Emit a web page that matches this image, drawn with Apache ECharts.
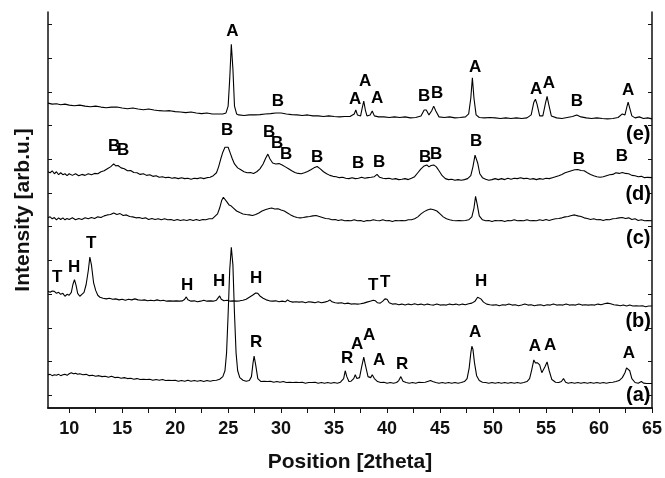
<!DOCTYPE html>
<html>
<head>
<meta charset="utf-8">
<script src="https://cdn.jsdelivr.net/npm/echarts@6/dist/echarts.min.js"></script>
<style>
  html, body { margin: 0; padding: 0; background: #fff; }
  #chart { width: 665px; height: 478px; }
</style>
</head>
<body>
<div id="chart"></div>
<script>
// XRD patterns, 2theta vs intensity (arb. units, traces already stacked)
const traceE = [[8,933],[8.4,930],[8.8,931],[9.2,928],[9.6,930],[10,927],[10.5,925],[11,927],[11.5,924],[12,922],[12.5,924],[13,921],[13.5,919],[14,921],[14.5,921],[15,918],[15.5,916],[16,918],[16.5,915],[17,913],[17.5,915],[18,912],[18.5,910],[19,909],[19.5,910],[20,907],[20.5,906],[21,904],[21.5,906],[22,903],[22.5,901],[23,903],[23.5,900],[24,900],[24.5,900],[24.8,903],[25,924],[25.15,1008],[25.3,1113],[25.45,1038],[25.6,924],[25.8,900],[26,897],[26.5,895],[27,897],[27.5,897],[28,898],[28.5,900],[29,901],[29.5,903],[30,903],[30.5,900],[31,898],[31.5,897],[32,895],[32.5,897],[33,894],[33.5,894],[34,892],[34.5,894],[35,892],[35.5,891],[36,892],[36.5,892],[36.9,900],[37.05,912],[37.2,897],[37.5,894],[37.65,918],[37.8,939],[37.95,912],[38.1,894],[38.4,897],[38.6,909],[38.8,894],[39.2,891],[39.7,891],[40.2,889],[40.7,891],[41.2,889],[41.7,891],[42.2,888],[42.7,889],[43.2,894],[43.5,912],[43.7,912],[43.95,897],[44.2,909],[44.4,924],[44.6,909],[44.9,891],[45.4,889],[45.9,891],[46.4,888],[46.9,889],[47.4,891],[47.7,900],[47.9,948],[48.05,1011],[48.2,948],[48.4,897],[48.7,889],[49.2,888],[49.7,889],[50.2,888],[50.7,886],[51.2,888],[51.7,886],[52.2,888],[52.7,886],[53.2,888],[53.6,897],[53.85,936],[54,945],[54.15,930],[54.4,894],[54.7,894],[54.95,933],[55.1,954],[55.25,930],[55.5,894],[56,888],[56.5,886],[57,889],[57.5,892],[57.9,897],[58.3,891],[58.8,888],[59.3,886],[59.8,888],[60.3,886],[60.8,885],[61.3,886],[61.8,889],[62.2,900],[62.45,897],[62.65,924],[62.75,936],[62.9,918],[63.1,894],[63.4,888],[63.8,891],[64.2,886],[64.6,888],[65,885]];

const traceD = [[8,723],[8.2,720],[8.4,726],[8.6,717],[8.8,723],[9,714],[9.2,720],[9.4,714],[9.6,717],[9.8,711],[10,717],[10.3,712],[10.6,717],[10.9,711],[11.2,715],[11.5,712],[11.8,717],[12.1,714],[12.4,718],[12.7,717],[13,723],[13.3,726],[13.6,732],[13.9,738],[14.2,747],[14.4,741],[14.6,742],[14.9,735],[15.2,732],[15.5,726],[15.8,727],[16.1,721],[16.4,720],[16.7,715],[17,717],[17.3,712],[17.6,714],[17.9,709],[18.2,711],[18.5,706],[18.8,708],[19.1,705],[19.4,706],[19.7,703],[20,705],[20.3,702],[20.6,705],[20.9,702],[21.2,703],[21.5,700],[21.8,703],[22.1,702],[22.4,705],[22.7,702],[23,705],[23.3,706],[23.6,711],[23.9,720],[24.1,738],[24.3,762],[24.5,783],[24.7,798],[24.85,804],[25,798],[25.2,780],[25.4,762],[25.6,747],[25.9,735],[26.2,729],[26.5,723],[26.8,720],[27.1,721],[27.4,718],[27.7,723],[28,732],[28.3,747],[28.55,765],[28.75,777],[28.95,762],[29.2,750],[29.5,747],[29.8,748],[30.1,744],[30.4,738],[30.7,732],[31,726],[31.3,721],[31.6,718],[31.9,717],[32.2,720],[32.5,724],[32.8,729],[33.1,735],[33.4,739],[33.7,732],[34,723],[34.3,717],[34.6,712],[34.9,709],[35.2,708],[35.5,705],[35.8,706],[36.1,703],[36.4,702],[36.7,705],[37,702],[37.3,703],[37.6,706],[37.9,703],[38.2,705],[38.5,706],[38.8,708],[39.05,715],[39.3,706],[39.6,703],[39.9,702],[40.2,703],[40.5,700],[40.8,702],[41.1,699],[41.4,700],[41.7,702],[42,699],[42.3,703],[42.6,708],[42.9,720],[43.2,732],[43.5,741],[43.75,744],[43.95,738],[44.15,742],[44.4,744],[44.65,738],[44.9,726],[45.2,711],[45.5,702],[45.8,699],[46.1,700],[46.4,697],[46.7,699],[47,697],[47.3,699],[47.6,702],[47.9,711],[48.1,738],[48.3,774],[48.4,777],[48.55,750],[48.75,717],[49,705],[49.3,700],[49.6,697],[49.9,699],[50.2,702],[50.5,699],[50.8,702],[51.1,699],[51.4,703],[51.7,700],[52,703],[52.3,702],[52.6,705],[52.9,702],[53.2,703],[53.5,700],[53.8,702],[54.1,699],[54.4,702],[54.7,700],[55,703],[55.3,702],[55.6,705],[55.9,708],[56.2,711],[56.5,715],[56.8,720],[57.1,723],[57.4,726],[57.7,729],[58,730],[58.3,727],[58.6,726],[58.9,720],[59.2,715],[59.5,711],[59.8,708],[60.1,706],[60.4,708],[60.7,711],[61,714],[61.3,715],[61.6,720],[61.9,718],[62.2,721],[62.5,718],[62.8,717],[63.1,712],[63.4,711],[63.7,708],[64,709],[64.3,705],[64.6,706],[65,705]];

const traceC = [[8,582],[8.2,585],[8.4,579],[8.6,583],[8.8,576],[9,582],[9.2,577],[9.4,582],[9.6,576],[9.8,580],[10,577],[10.3,582],[10.6,576],[10.9,580],[11.2,577],[11.5,582],[11.8,579],[12.1,583],[12.4,580],[12.7,585],[13,583],[13.3,588],[13.6,591],[13.9,592],[14.2,597],[14.5,592],[14.8,595],[15.1,589],[15.4,591],[15.7,586],[16,585],[16.3,582],[16.6,583],[16.9,580],[17.2,582],[17.5,577],[17.8,580],[18.1,577],[18.4,579],[18.7,576],[19,579],[19.3,576],[19.6,577],[19.9,574],[20.2,577],[20.5,574],[20.8,576],[21.1,574],[21.4,577],[21.7,574],[22,577],[22.3,574],[22.6,577],[22.9,576],[23.2,579],[23.5,579],[23.8,588],[24,594],[24.2,612],[24.4,636],[24.55,645],[24.7,639],[24.9,630],[25.1,621],[25.3,618],[25.5,612],[25.8,603],[26.1,598],[26.4,594],[26.7,592],[27,591],[27.3,589],[27.6,592],[27.9,597],[28.2,603],[28.5,607],[28.8,610],[29.1,612],[29.4,609],[29.7,610],[30,606],[30.3,603],[30.6,597],[30.9,591],[31.2,586],[31.5,583],[31.8,582],[32.1,583],[32.4,585],[32.7,586],[33,588],[33.3,589],[33.6,586],[33.9,583],[34.2,580],[34.5,579],[34.8,576],[35.1,577],[35.4,574],[35.7,576],[36,573],[36.3,574],[36.6,573],[36.9,576],[37.2,573],[37.5,574],[37.8,571],[38.1,574],[38.4,573],[38.7,576],[39,574],[39.3,573],[39.6,576],[39.9,573],[40.2,574],[40.5,571],[40.8,574],[41.1,573],[41.4,574],[41.7,573],[42,576],[42.3,576],[42.6,579],[42.9,585],[43.2,594],[43.5,601],[43.8,606],[44.1,609],[44.4,607],[44.7,603],[45,594],[45.3,585],[45.6,579],[45.9,576],[46.2,574],[46.5,573],[46.8,574],[47.1,573],[47.4,574],[47.7,576],[48,585],[48.2,612],[48.35,648],[48.5,624],[48.7,588],[49,576],[49.3,573],[49.6,574],[49.9,571],[50.2,574],[50.5,573],[50.8,574],[51.1,571],[51.4,574],[51.7,573],[52,576],[52.3,573],[52.6,574],[52.9,573],[53.2,576],[53.5,573],[53.8,574],[54.1,573],[54.4,576],[54.7,574],[55,577],[55.3,574],[55.6,577],[55.9,579],[56.2,580],[56.5,582],[56.8,585],[57.1,586],[57.4,589],[57.7,591],[58,588],[58.3,586],[58.6,582],[58.9,580],[59.2,577],[59.5,579],[59.8,576],[60.1,577],[60.4,574],[60.7,577],[61,576],[61.3,579],[61.6,580],[61.9,582],[62.2,583],[62.5,580],[62.8,582],[63.1,577],[63.4,579],[63.7,574],[64,576],[64.3,573],[64.6,574],[65,573]];

const traceB = [[8,357],[8.2,354],[8.4,358],[8.6,357],[8.8,351],[9,354],[9.2,348],[9.4,351],[9.6,342],[9.8,348],[10,345],[10.2,354],[10.35,378],[10.5,393],[10.65,375],[10.8,351],[11,342],[11.2,348],[11.4,354],[11.6,378],[11.8,420],[11.95,462],[12.1,438],[12.3,384],[12.5,360],[12.7,345],[12.9,339],[13.2,336],[13.5,334],[13.8,336],[14.1,333],[14.4,334],[14.7,331],[15,333],[15.3,330],[15.6,333],[15.9,331],[16.2,334],[16.5,331],[16.8,330],[17.1,331],[17.4,328],[17.7,330],[18,328],[18.3,331],[18.6,328],[18.9,330],[19.2,327],[19.5,328],[19.8,327],[20.1,328],[20.4,327],[20.7,328],[20.9,333],[21.05,340],[21.2,331],[21.5,327],[21.8,328],[22.1,325],[22.4,327],[22.7,330],[23,327],[23.3,328],[23.6,327],[23.9,330],[24.05,336],[24.2,343],[24.35,333],[24.6,328],[24.9,330],[25.2,327],[25.5,328],[25.8,327],[26.1,328],[26.4,330],[26.7,333],[27,339],[27.3,345],[27.6,352],[27.8,351],[28,343],[28.3,336],[28.6,331],[28.9,328],[29.2,327],[29.5,328],[29.8,325],[30.1,327],[30.4,325],[30.6,331],[30.8,327],[31.1,324],[31.4,325],[31.7,324],[32,325],[32.3,322],[32.6,325],[32.9,324],[33.2,322],[33.5,325],[33.8,322],[34.1,324],[34.4,327],[34.6,331],[34.8,325],[35.1,322],[35.4,321],[35.7,322],[36,319],[36.3,321],[36.6,318],[36.9,319],[37.2,318],[37.5,319],[37.8,321],[38.1,324],[38.4,327],[38.7,330],[38.9,328],[39.1,322],[39.35,321],[39.6,327],[39.8,334],[40,333],[40.2,322],[40.5,318],[40.8,319],[41.1,316],[41.4,318],[41.7,315],[42,318],[42.3,316],[42.6,319],[42.9,316],[43.2,318],[43.5,315],[43.8,318],[44.1,316],[44.4,315],[44.7,318],[45,315],[45.3,316],[45.6,315],[45.9,318],[46.2,316],[46.5,318],[46.8,315],[47.1,318],[47.4,316],[47.7,319],[48,321],[48.3,327],[48.55,339],[48.7,342],[48.85,334],[49.1,324],[49.4,318],[49.7,316],[50,315],[50.3,316],[50.6,313],[50.9,316],[51.2,315],[51.5,318],[51.8,315],[52.1,316],[52.4,313],[52.7,315],[53,318],[53.3,315],[53.6,316],[53.9,313],[54.2,315],[54.5,316],[54.8,313],[55.1,316],[55.4,315],[55.7,318],[56,315],[56.3,316],[56.6,315],[56.9,318],[57.2,315],[57.5,316],[57.8,315],[58.1,318],[58.4,315],[58.7,316],[59,315],[59.3,316],[59.6,315],[59.9,318],[60.2,316],[60.5,319],[60.8,321],[61.1,319],[61.4,316],[61.7,315],[62,313],[62.3,315],[62.6,312],[62.9,315],[63.2,312],[63.5,313],[63.8,312],[64.1,313],[64.4,310],[64.7,312],[65,312]];

const traceA = [[8,102],[8.2,103],[8.4,99],[8.6,102],[8.8,100],[9,103],[9.2,99],[9.4,102],[9.6,103],[9.8,100],[10,105],[10.2,108],[10.4,105],[10.6,106],[10.8,103],[11,105],[11.3,102],[11.6,103],[11.9,99],[12.2,100],[12.5,97],[12.8,99],[13.1,96],[13.4,97],[13.7,94],[14,97],[14.3,93],[14.6,94],[14.9,91],[15.2,93],[15.5,90],[15.8,91],[16.1,88],[16.4,90],[16.7,87],[17,88],[17.3,87],[17.6,88],[17.9,85],[18.2,87],[18.5,85],[18.8,87],[19.1,84],[19.4,85],[19.7,84],[20,85],[20.3,82],[20.6,84],[20.9,82],[21.2,85],[21.5,82],[21.8,84],[22.1,82],[22.4,84],[22.7,81],[23,84],[23.3,82],[23.6,84],[23.9,85],[24.2,88],[24.5,96],[24.7,114],[24.85,168],[25,288],[25.15,423],[25.3,492],[25.45,438],[25.6,288],[25.75,168],[25.9,114],[26.1,93],[26.4,85],[26.7,82],[27,84],[27.2,96],[27.35,138],[27.45,159],[27.6,132],[27.8,90],[28.1,81],[28.4,82],[28.7,81],[29,82],[29.3,79],[29.6,81],[29.9,79],[30.2,81],[30.5,78],[30.8,79],[31.1,78],[31.4,79],[31.7,78],[32,79],[32.3,76],[32.6,78],[32.9,78],[33.2,79],[33.5,76],[33.8,78],[34.1,76],[34.4,78],[34.7,76],[35,78],[35.3,76],[35.6,79],[35.9,90],[36.05,114],[36.2,96],[36.4,81],[36.6,82],[36.85,90],[37,102],[37.15,90],[37.4,93],[37.6,126],[37.8,156],[37.95,132],[38.2,96],[38.45,93],[38.6,102],[38.8,90],[39.1,81],[39.4,78],[39.7,79],[40,76],[40.3,78],[40.6,76],[40.9,78],[41.1,84],[41.3,96],[41.5,82],[41.8,78],[42.1,76],[42.4,78],[42.7,76],[43,79],[43.3,78],[43.6,79],[43.9,82],[44.1,84],[44.3,81],[44.6,78],[44.9,76],[45.2,78],[45.5,76],[45.8,78],[46.1,76],[46.4,78],[46.7,76],[47,78],[47.3,81],[47.55,90],[47.75,123],[47.9,168],[48,189],[48.1,180],[48.25,138],[48.45,99],[48.7,84],[49,79],[49.3,78],[49.6,76],[49.9,78],[50.2,76],[50.5,78],[50.8,76],[51.1,78],[51.4,76],[51.7,78],[52,76],[52.3,78],[52.6,76],[52.9,78],[53.2,81],[53.45,90],[53.65,117],[53.85,147],[54,138],[54.2,138],[54.4,132],[54.6,108],[54.75,102],[54.9,126],[55.1,141],[55.3,114],[55.55,87],[55.9,79],[56.2,78],[56.45,81],[56.65,90],[56.85,79],[57.1,76],[57.4,78],[57.7,76],[58,78],[58.3,76],[58.6,78],[58.9,76],[59.2,78],[59.5,76],[59.8,78],[60.1,76],[60.4,78],[60.7,76],[61,78],[61.3,79],[61.6,81],[61.9,84],[62.2,93],[62.45,108],[62.6,123],[62.75,126],[62.9,114],[63.1,90],[63.4,78],[63.7,76],[64,81],[64.2,76],[64.5,75],[65,75]];

// phase markers: [2theta, intensity, letter]
const labelsE = [[25.4,1152,'A'],[29.7,939,'B'],[36.98,945,'A'],[37.92,999,'A'],[39.06,948,'A'],[43.49,954,'B'],[44.72,963,'B'],[48.3,1044,'A'],[54.06,975,'A'],[55.28,993,'A'],[57.92,939,'B'],[62.74,972,'A']];
const labelsD = [[14.25,801,'B'],[15.09,789,'B'],[24.91,849,'B'],[28.87,843,'B'],[29.62,810,'B'],[30.47,777,'B'],[33.4,768,'B'],[37.26,750,'B'],[39.25,753,'B'],[43.58,768,'B'],[44.62,777,'B'],[48.4,816,'B'],[58.11,762,'B'],[62.17,771,'B']];
const labelsB = [[8.87,399,'T'],[10.47,432,'H'],[12.08,504,'T'],[21.13,375,'H'],[24.15,387,'H'],[27.64,396,'H'],[38.68,375,'T'],[39.81,384,'T'],[48.87,387,'H']];
const labelsA = [[27.64,201,'R'],[36.23,153,'R'],[37.17,195,'A'],[38.3,222,'A'],[39.25,147,'A'],[41.42,135,'R'],[48.3,231,'A'],[53.96,189,'A'],[55.38,192,'A'],[62.83,168,'A']];
const sampleTags = [[63.7,837,'(e)'],[63.7,654,'(d)'],[63.7,519,'(c)'],[63.7,264,'(b)'],[63.7,39,'(a)']];

const xLabelValues = [10, 15, 20, 25, 30, 35, 40, 45, 50, 55, 60, 65];
const xTickValues = [10, 12.5, 15, 17.5, 20, 22.5, 25, 27.5, 30, 32.5, 35, 37.5, 40, 42.5, 45, 47.5, 50, 52.5, 55, 57.5, 60, 62.5, 65];
const yTickValues = [39, 142.2, 245.4, 348.6, 451.8, 555, 658.2, 761.4, 864.6, 967.8, 1071, 1174.2];

const font = 'Liberation Sans, Arial, sans-serif';
const ink = '#111';

const chart = echarts.init(document.getElementById('chart'));

const lineSeries = (data) => ({
  type: 'line',
  data: data,
  showSymbol: false,
  symbol: 'none',
  lineStyle: { color: '#000', width: 1.1 },
  animation: false,
  silent: true
})

const textSeries = (data, size) => ({
  type: 'scatter',
  data: data,
  symbol: 'circle',
  symbolSize: 0.1,
  itemStyle: { color: '#fff', opacity: 1 },
  silent: true,
  animation: false,
  z: 5,
  label: {
    show: true,
    position: 'inside',
    formatter: (p) => p.data[2],
    color: '#000',
    opacity: 1,
    textBorderWidth: 0,
    textBorderColor: 'transparent',
    fontFamily: font,
    fontWeight: 'bold',
    fontSize: size
  }
})

const axisLine = { show: true, lineStyle: { color: ink, width: 1.5 } }

chart.setOption({
  backgroundColor: '#fff',
  animation: false,
  grid: { left: 48, right: 13, top: 12, bottom: 62 },
  xAxis: [
    {
      type: 'value',
      min: 8,
      max: 65,
      name: 'Position [2theta]',
      nameLocation: 'middle',
      nameGap: 44,
      nameTextStyle: { color: ink, fontFamily: font, fontWeight: 'bold', fontSize: 21 },
      axisLine: axisLine,
      axisTick: { show: true, inside: false, length: 5, customValues: xTickValues, lineStyle: { color: ink, width: 1 } },
      axisLabel: { show: true, customValues: xLabelValues, margin: 12, color: ink, fontFamily: font, fontWeight: 'bold', fontSize: 18 },
      splitLine: { show: false }
    },
    {
      type: 'value',
      position: 'top',
      min: 8,
      max: 65,
      axisLine: axisLine,
      axisTick: { show: true, inside: true, length: 4, customValues: xTickValues, lineStyle: { color: ink, width: 1 } },
      axisLabel: { show: false },
      splitLine: { show: false }
    }
  ],
  yAxis: [
    {
      type: 'value',
      min: 0,
      max: 1212,
      name: 'Intensity [arb.u.]',
      nameLocation: 'middle',
      nameGap: 14,
      nameTextStyle: { color: ink, fontFamily: font, fontWeight: 'bold', fontSize: 21 },
      axisLine: axisLine,
      axisTick: { show: true, inside: true, length: 4, customValues: yTickValues, lineStyle: { color: ink, width: 1 } },
      axisLabel: { show: false },
      splitLine: { show: false }
    },
    {
      type: 'value',
      position: 'right',
      min: 0,
      max: 1212,
      axisLine: axisLine,
      axisTick: { show: true, inside: true, length: 4, customValues: yTickValues, lineStyle: { color: ink, width: 1 } },
      axisLabel: { show: false },
      splitLine: { show: false }
    }
  ],
  series: [
    lineSeries(traceA),
    lineSeries(traceB),
    lineSeries(traceC),
    lineSeries(traceD),
    lineSeries(traceE),
    textSeries(labelsE, 17),
    textSeries(labelsD, 17),
    textSeries(labelsB, 17),
    textSeries(labelsA, 17),
    textSeries(sampleTags, 20)
  ]
})
</script>
</body>
</html>
